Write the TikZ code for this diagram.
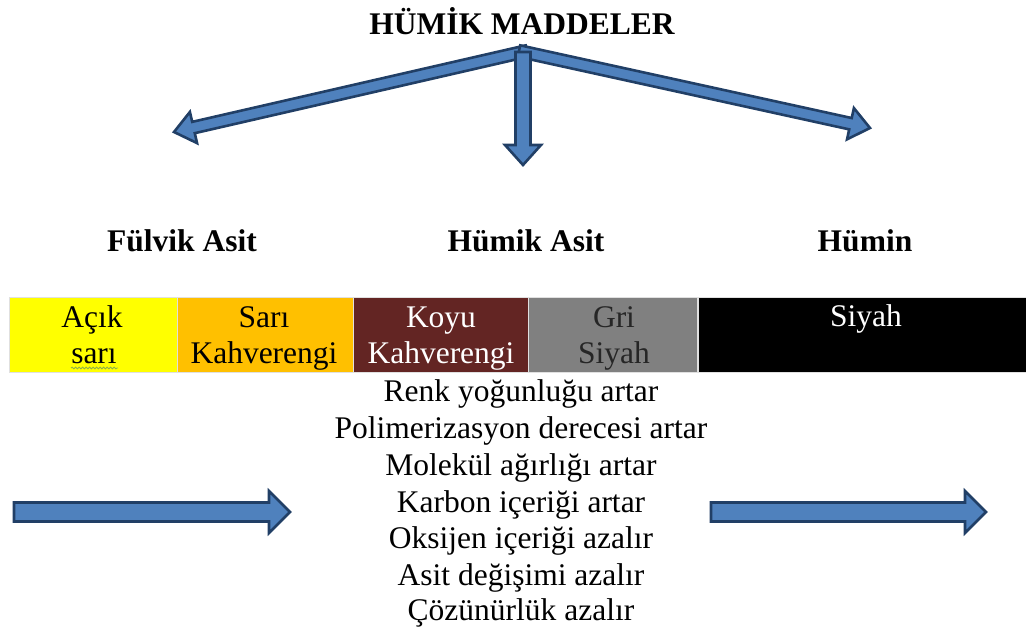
\documentclass[tikz,border=0pt]{standalone}
\usepackage{fontspec}
\setmainfont{Liberation Serif}
\usetikzlibrary{calc,decorations.pathmorphing}
\definecolor{afill}{HTML}{4F81BD}
\definecolor{aedge}{HTML}{213F66}
\definecolor{cyel}{HTML}{FFFF00}
\definecolor{corg}{HTML}{FFC000}
\definecolor{cbrn}{HTML}{632523}
\definecolor{cgry}{HTML}{808080}
\definecolor{cwav}{HTML}{8DB04A}
\newcommand{\blockarrow}[5]{%
  \coordinate (ba-h) at ($(#2)!#5!(#1)$);
  \draw[blockarr] ($(#1)!#3!90:(#2)$) -- ($(ba-h)!#3!-90:(#1)$) -- ($(ba-h)!#4!-90:(#1)$) -- (#2) -- ($(ba-h)!#4!90:(#1)$) -- ($(ba-h)!#3!90:(#1)$) -- ($(#1)!#3!-90:(#2)$) -- cycle;}
\begin{document}
\begin{tikzpicture}[x=1pt,y=-1pt,
  every node/.style={inner sep=0pt, outer sep=0pt},
  txt/.style={font=\fontsize{31.5}{36.5}\selectfont, anchor=base},
  btxt/.style={font=\fontsize{31.5}{36.5}\selectfont\bfseries, anchor=base},
  blockarr/.style={fill=afill, draw=aedge, line width=2.6pt, line join=miter},
  barbox/.style={draw=black!12, line width=0.8pt, minimum height=75pt}]
\useasboundingbox (0,0) rectangle (1026,628);

% title
\node[btxt] (title) at (522,35) {HÜMİK MADDELER};
\coordinate (apex) at (523,52);
\coordinate (apexL) at (527,51);
\coordinate (apexR) at (519,51);
\coordinate (tipL) at (174,132);
\coordinate (tipR) at (870,128);
\coordinate (tipD) at (523,165);

% category labels
\node[btxt] (fulvik) at (182,252) {Fülvik Asit};
\node[btxt] (humik) at (526,252) {Hümik Asit};
\node[btxt] (humin) at (865,252) {Hümin};

% top arrows
\blockarrow{apexL}{tipL}{5.8pt}{16pt}{20pt}
\blockarrow{apexR}{tipR}{5.8pt}{16pt}{20pt}
\blockarrow{apex}{tipD}{7.5pt}{18pt}{20pt}

% colour bar
\node[barbox, fill=cyel, minimum width=168pt] (b1) at (93.5,334.5) {};
\node[barbox, fill=corg, minimum width=176pt] (b2) at (265.5,334.5) {};
\node[barbox, fill=cbrn, minimum width=175pt] (b3) at (441,334.5) {};
\node[barbox, fill=cgry, minimum width=169pt] (b4) at (613,334.5) {};
\node[barbox, fill=black, minimum width=328pt] (b5) at (862.5,334.5) {};

\node[txt] (b1a) at (92,328) {Açık};
\node[txt] (b1b) at (94,364) {sarı};
\draw[cwav, line width=0.8pt, decorate, decoration={snake, amplitude=0.9pt, segment length=3.5pt}] (71,368) -- (118,368);
\node[txt] (b2a) at (264,328) {Sarı};
\node[txt] (b2b) at (264,364) {Kahverengi};
\node[txt, text=white] (b3a) at (441,328) {Koyu};
\node[txt, text=white] (b3b) at (441,364) {Kahverengi};
\node[txt, text=black!85] (b4a) at (614,328) {Gri};
\node[txt, text=black!85] (b4b) at (614,364) {Siyah};
\node[txt, text=white] (b5a) at (866,327) {Siyah};

% property list
\node[txt] (p1) at (521,402) {Renk yoğunluğu artar};
\node[txt] (p2) at (521,438.5) {Polimerizasyon derecesi artar};
\node[txt] (p3) at (521,475) {Molekül ağırlığı artar};
\node[txt] (p4) at (521,512) {Karbon içeriği artar};
\node[txt] (p5) at (521,548.5) {Oksijen içeriği azalır};
\node[txt] (p6) at (521,585) {Asit değişimi azalır};
\node[txt] (p7) at (521,620) {Çözünürlük azalır};

% bottom arrows
\coordinate (l0) at (14,512);
\coordinate (l1) at (290,512);
\coordinate (r0) at (711,512);
\coordinate (r1) at (986,512);
\blockarrow{l0}{l1}{9.5pt}{21pt}{21pt}
\blockarrow{r0}{r1}{9.5pt}{21pt}{21pt}
\end{tikzpicture}
\end{document}
